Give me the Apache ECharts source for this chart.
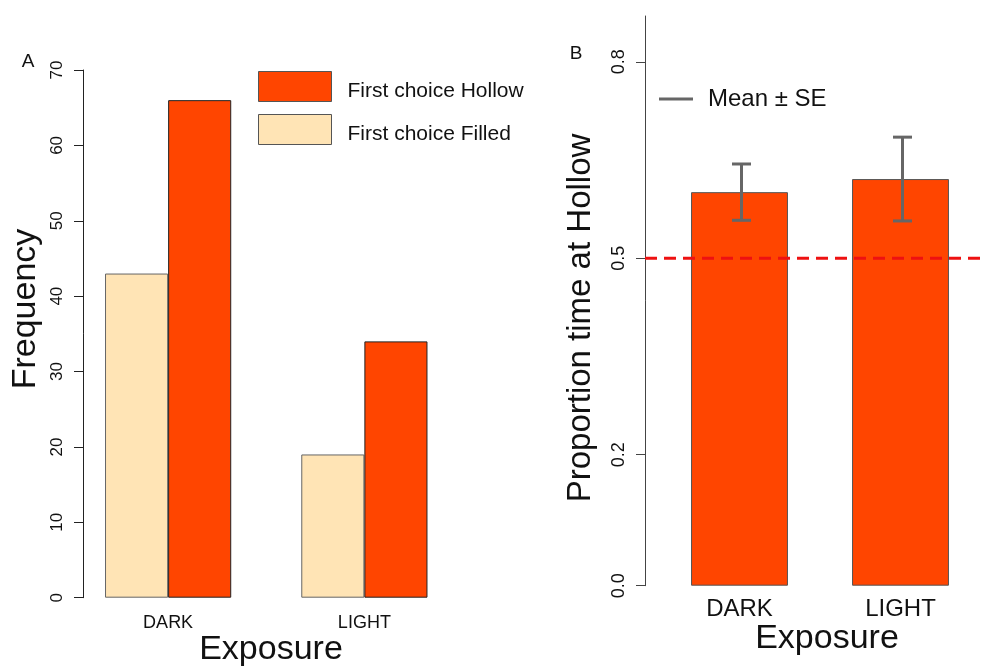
<!DOCTYPE html>
<html>
<head>
<meta charset="utf-8">
<script src="https://cdn.jsdelivr.net/npm/echarts@6/dist/echarts.min.js"></script>
<style>
  html, body { margin: 0; padding: 0; background: #fff; }
  #chart { width: 986px; height: 668px; }
</style>
</head>
<body>
<div id="chart"></div>
<script>
// Panel A: first-choice counts per exposure
const categories = ['DARK', 'LIGHT'];
const filledCounts = [43, 19];
const hollowCounts = [66, 34];
const freqMin = 0, freqMax = 70, freqStep = 10;

// Panel B: mean proportion of time at hollow, with standard errors
const meanProp = [0.601, 0.621];
const seProp = [0.043, 0.064];
const propTicks = [0, 0.2, 0.5, 0.8];
const propMax = 0.87;
const chanceLevel = 0.5;

const FONT = '"Liberation Sans", Arial, Helvetica, sans-serif';
const HOLLOW = '#FF4500';
const FILLED = '#FFE4B5';

const chart = echarts.init(document.getElementById('chart'), null, { renderer: 'canvas' });

const option = {
  backgroundColor: '#ffffff',
  animation: false,
  textStyle: { fontFamily: FONT },
  grid: [
    { left: 70, top: 70, width: 392.5, height: 527.7 },
    { left: 659, top: 16, width: 322, height: 569.7 }
  ],
  legend: [
    {
      orient: 'vertical',
      left: 258, top: 71, padding: 0,
      itemWidth: 73, itemHeight: 30, itemGap: 12,
      data: [
        { name: 'First choice Hollow', icon: 'rect' },
        { name: 'First choice Filled', icon: 'rect' }
      ],
      itemStyle: { borderColor: '#555', borderWidth: 1 },
      formatter: name => '{t|' + name + '}',
      textStyle: {
        fontSize: 21, color: '#111', fontFamily: FONT,
        rich: { t: { fontSize: 21, color: '#111', fontFamily: FONT, padding: [10, 0, 0, 11] } }
      }
    },
    {
      orient: 'vertical',
      left: 659, top: 87, padding: 0,
      itemWidth: 34, itemHeight: 3,
      data: [{ name: 'Mean \u00B1 SE', icon: 'rect' }],
      textStyle: { fontSize: 24, color: '#111', fontFamily: FONT, padding: [0, 0, 0, 10] }
    }
  ],
  xAxis: [
    {
      type: 'category', gridIndex: 0, data: categories,
      axisLine: { show: false }, axisTick: { show: false },
      axisLabel: { fontSize: 18, color: '#111', margin: 16, fontFamily: FONT }
    },
    {
      type: 'category', gridIndex: 1, data: categories,
      axisLine: { show: false }, axisTick: { show: false },
      axisLabel: { fontSize: 24, color: '#111', margin: 12, fontFamily: FONT }
    }
  ],
  yAxis: [
    {
      type: 'value', gridIndex: 0, min: freqMin, max: freqMax, interval: freqStep,
      offset: -13,
      axisLine: { show: true, lineStyle: { color: '#222', width: 1 } },
      axisTick: { show: true, length: 9, lineStyle: { color: '#222' } },
      splitLine: { show: false },
      axisLabel: { rotate: 90, fontSize: 17, color: '#111', margin: 17, fontFamily: FONT }
    },
    {
      type: 'value', gridIndex: 1, min: 0, max: propMax,
      offset: 14,
      axisLine: { show: true, lineStyle: { color: '#444', width: 1 } },
      axisTick: { show: true, length: 9, customValues: propTicks, lineStyle: { color: '#444' } },
      splitLine: { show: false },
      axisLabel: {
        rotate: 90, fontSize: 18, color: '#111', margin: 17, fontFamily: FONT,
        customValues: propTicks,
        formatter: v => v.toFixed(1)
      }
    }
  ],
  graphic: [
    {
      type: 'text', x: 28, y: 62,
      style: { text: 'A', fontSize: 19, fill: '#111', fontFamily: FONT, align: 'center', verticalAlign: 'middle' }
    },
    {
      type: 'text', x: 576, y: 54,
      style: { text: 'B', fontSize: 19, fill: '#111', fontFamily: FONT, align: 'center', verticalAlign: 'middle' }
    },
    {
      type: 'text', x: 26, y: 309, rotation: Math.PI / 2,
      style: { text: 'Frequency', fontSize: 34, fill: '#111', fontFamily: FONT, align: 'center', verticalAlign: 'middle' }
    },
    {
      type: 'text', x: 271, y: 650,
      style: { text: 'Exposure', fontSize: 34, fill: '#111', fontFamily: FONT, align: 'center', verticalAlign: 'middle' }
    },
    {
      type: 'text', x: 581, y: 318, rotation: Math.PI / 2,
      style: { text: 'Proportion time at Hollow', fontSize: 33, fill: '#111', fontFamily: FONT, align: 'center', verticalAlign: 'middle' }
    },
    {
      type: 'text', x: 827, y: 639,
      style: { text: 'Exposure', fontSize: 34, fill: '#111', fontFamily: FONT, align: 'center', verticalAlign: 'middle' }
    }
  ],
  series: [
    {
      name: 'First choice Filled', type: 'bar', xAxisIndex: 0, yAxisIndex: 0,
      data: filledCounts, barGap: '0%', barCategoryGap: '35.7%',
      itemStyle: { color: FILLED, borderColor: '#666', borderWidth: 1 }
    },
    {
      name: 'First choice Hollow', type: 'bar', xAxisIndex: 0, yAxisIndex: 0,
      data: hollowCounts, barGap: '0%', barCategoryGap: '35.7%',
      itemStyle: { color: HOLLOW, borderColor: '#222', borderWidth: 1 }
    },
    {
      type: 'bar', xAxisIndex: 1, yAxisIndex: 1,
      data: meanProp, barCategoryGap: '39.8%',
      itemStyle: { color: HOLLOW, borderColor: '#555', borderWidth: 1 }
    },
    {
      // chance level reference line, spanning from the axis to the right edge
      type: 'custom', xAxisIndex: 1, yAxisIndex: 1, silent: true, z: 5,
      data: [[0, chanceLevel]],
      encode: { x: 0, y: 1 },
      clip: false,
      renderItem: (params, api) => {
        const y = api.coord([api.value(0), api.value(1)])[1];
        const x0 = params.coordSys.x - 14;
        return {
          type: 'line',
          shape: { x1: x0, y1: y, x2: api.getWidth() + 10, y2: y },
          style: { stroke: '#EE1111', lineWidth: 3, lineDash: [12, 7] }
        };
      }
    },
    {
      name: 'Mean \u00B1 SE', type: 'custom', xAxisIndex: 1, yAxisIndex: 1, z: 6,
      itemStyle: { color: '#666' },
      data: categories.map((c, i) => [i, meanProp[i], seProp[i]]),
      encode: { x: 0, y: 1 },
      renderItem: (params, api) => {
        const idx = api.value(0), m = api.value(1), se = api.value(2);
        const top = api.coord([idx, m + se]);
        const bot = api.coord([idx, m - se]);
        const x = top[0] + 2, hw = 9.5;
        const st = { stroke: '#666', lineWidth: 3 };
        return {
          type: 'group',
          children: [
            { type: 'line', shape: { x1: x, y1: top[1], x2: x, y2: bot[1] }, style: st },
            { type: 'line', shape: { x1: x - hw, y1: top[1], x2: x + hw, y2: top[1] }, style: st },
            { type: 'line', shape: { x1: x - hw, y1: bot[1], x2: x + hw, y2: bot[1] }, style: st }
          ]
        };
      }
    }
  ]
};

chart.setOption(option);
</script>
</body>
</html>
